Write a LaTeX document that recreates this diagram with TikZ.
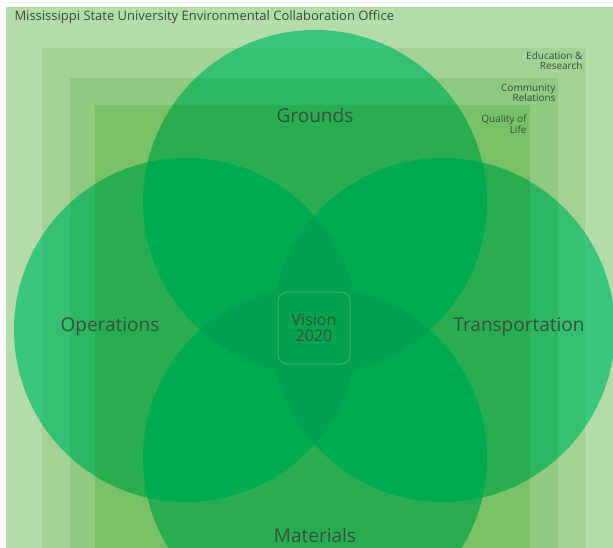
\documentclass[tikz,border=0pt]{standalone}
\usepackage{fontspec}
\setmainfont{Open Sans}
\usepackage{xcolor}
\usepackage{tikz}
\definecolor{bgouter}{HTML}{B3DCA6}
\definecolor{bandone}{HTML}{A2D395}
\definecolor{bandtwo}{HTML}{8FCA80}
\definecolor{bandthree}{HTML}{79C169}
\definecolor{petalgreen}{HTML}{55E6C3}
\definecolor{lensgreen}{HTML}{00E1C3}
\definecolor{coregreen}{HTML}{00D7BD}
\definecolor{labtext}{HTML}{34513A}

\begin{document}
\begin{tikzpicture}[x=1pt, y=-1pt, line width=1pt,
    petal/.style={fill=petalgreen},
    lens/.style={fill=lensgreen},
    core/.style={fill=coregreen},
    biglabel/.style={text=labtext, font=\fontsize{19}{21}\selectfont},
    bandlabel/.style={text=labtext, anchor=north east, align=right, font=\fontsize{10}{10}\selectfont, inner sep=0pt}]
        \useasboundingbox (0,0) rectangle (613,548);
        % Backdrop and nested bands
        \fill[white] (0,0) rectangle (613,548);
        \fill[bgouter] (6,7) rectangle (613,548);
        \fill[bandone] (42,48) rectangle (585,548);
        \fill[bandtwo] (70,78) rectangle (558,548);
        \fill[bandthree] (95,105) rectangle (530,548);
        % Four overlapping circles
        \coordinate (Grounds) at (315,202);
        \coordinate (Operations) at (186,330);
        \coordinate (Transport) at (443,330);
        \coordinate (Materials) at (315,458);
        \begin{scope}[blend mode=multiply]
        \begin{scope}[transparency group]
            \foreach \c in {Grounds, Operations, Transport, Materials}
                \fill[petal] (\c) circle (172pt);
            % overlaps, one pair at a time
            \foreach \a/\b in {Grounds/Operations, Grounds/Transport, Grounds/Materials,
                               Operations/Transport, Operations/Materials, Transport/Materials}{
                \begin{scope}
                    \clip (\a) circle (172pt);
                    \fill[lens] (\b) circle (172pt);
                \end{scope}
            }
            % triple overlaps a shade darker
            \foreach \a/\b/\d in {Grounds/Operations/Transport, Grounds/Operations/Materials,
                                  Grounds/Transport/Materials, Operations/Transport/Materials}{
                \begin{scope}
                    \clip (\a) circle (172pt);
                    \clip (\b) circle (172pt);
                    \fill[core] (\d) circle (172pt);
                \end{scope}
            }
        \end{scope}
        \end{scope}
        % Centre box
        \node[draw=white, draw opacity=0.2, rounded corners=9pt,
              minimum width=72pt, minimum height=72pt, text=labtext, align=center,
              font=\fontsize{16}{16}\selectfont] (vision) at (314,328) {Vision\\2020};
        % Labels
        \node[text=labtext, anchor=base west, font=\fontsize{13}{15}\selectfont, inner sep=0pt]
            (title) at (14,21) {Mississippi State University Environmental Collaboration Office};
        \node[biglabel] (groundslab) at (315,115) {Grounds};
        \node[biglabel] (operationslab) at (110,327) {Operations};
        \node[biglabel] (transportlab) at (519,327) {Transportation};
        \node[biglabel] (materialslab) at (315,535) {Materials};
        \node[bandlabel] (edulab) at (583,51) {Education \&\\Research};
        \node[bandlabel] (commlab) at (556,84) {Community\\Relations};
        \node[bandlabel] (lifelab) at (527,114) {Quality of\\Life};
    \end{tikzpicture}
\end{document}
